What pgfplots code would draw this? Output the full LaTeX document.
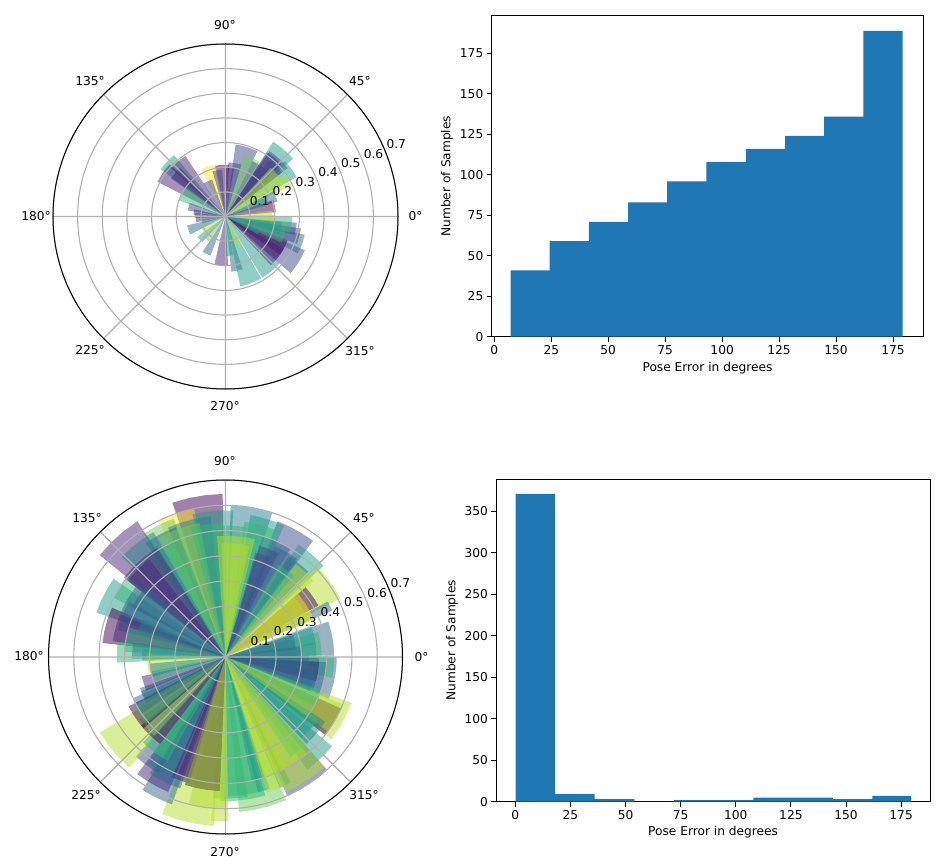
\documentclass[border=0pt]{standalone}
\usepackage{fontspec}
\setmainfont{DejaVu Sans}
\usepackage{pgfplots}
\usepgfplotslibrary{polar}
\pgfplotsset{compat=1.18}

% viridis, ten steps
\definecolor{v0}{HTML}{440154}
\definecolor{v1}{HTML}{482878}
\definecolor{v2}{HTML}{3E4989}
\definecolor{v3}{HTML}{31688E}
\definecolor{v4}{HTML}{26828E}
\definecolor{v5}{HTML}{1F9E89}
\definecolor{v6}{HTML}{35B779}
\definecolor{v7}{HTML}{6ECE58}
\definecolor{v8}{HTML}{B5DE2B}
\definecolor{v9}{HTML}{FDE725}
\definecolor{histblue}{HTML}{1F77B4}
\definecolor{gridgray}{HTML}{B0B0B0}

\newcommand{\tfont}{\fontsize{12.2}{14}\selectfont}

% one wedge: angle, width, radius, colour
\newcommand{\wbar}[4]{%
  \pgfmathsetmacro\ta{#1-#2/2}%
  \pgfmathsetmacro\tb{#1-#2/6}%
  \pgfmathsetmacro\tc{#1+#2/6}%
  \pgfmathsetmacro\td{#1+#2/2}%
  \edef\temp{\noexpand\addplot[draw=none,fill=#4,fill opacity=0.5]
    coordinates {(\ta,0) (\ta,#3) (\tb,#3) (\tc,#3) (\td,#3) (\td,0)};}%
  \temp}

\pgfplotsset{
  rosestyle/.style={
    scale only axis, width=#1, height=#1, anchor=center, clip=false,
    xmin=0, xmax=360, ymin=0, ymax=0.7,
    xtick={0,45,...,315}, ytick={0.1,0.2,...,0.7},
    xticklabels={}, yticklabels={},
    grid=major, major grid style={gridgray,line width=1.1pt},
    major tick length=0pt, axis on top,
    axis line style={black,line width=1pt},
    y axis line style={draw=none},
  },
  histstyle/.style={
    scale only axis, anchor=south west,
    axis line style={black,line width=1pt},
    tick style={black,line width=1pt}, major tick length=4.9pt,
    tick align=outside, xtick pos=bottom, ytick pos=left,
    every tick label/.append style={font=\tfont},
    /pgf/number format/assume math mode=true,
    label style={font=\tfont},
    xtick={0,25,...,175},
    xlabel={Pose Error in degrees}, ylabel={Number of Samples},
    scaled ticks=false,
  },
}
\newcommand{\rlab}[2]{\node[anchor=south west,inner sep=0pt,xshift=1.5pt,yshift=1.5pt,font=\tfont] at (axis cs:22.5,#1) {#2};}

\begin{document}
\begin{tikzpicture}[x=1pt,y=1pt]
\path[use as bounding box] (0,0) rectangle (936,863);

% top rose
\begin{polaraxis}[rosestyle=345pt, at={(225.5pt,646.5pt)}]
\wbar{49}{17}{.36}{v5}
\wbar{47}{18}{.32}{v2}
\wbar{36}{14}{.33}{v5}
\wbar{30}{10}{.295}{v8}
\wbar{73}{18}{.295}{v2}
\wbar{66}{15}{.26}{v7}
\wbar{80}{14}{.22}{v2}
\wbar{56}{16}{.25}{v2}
\wbar{50}{14}{.31}{v1}
\wbar{45}{14}{.29}{v2}
\wbar{40}{14}{.27}{v8}
\wbar{22}{12}{.22}{v3}
\wbar{12}{14}{.205}{v0}
\wbar{20}{10}{.18}{v5}
\wbar{85}{10}{.20}{v1}
\wbar{94}{16}{.21}{v0}
\wbar{109}{16}{.215}{v9}
\wbar{100}{12}{.19}{v2}
\wbar{137}{14}{.325}{v5}
\wbar{145}{16}{.31}{v1}
\wbar{131}{15}{.295}{v1}
\wbar{139}{12}{.27}{v1}
\wbar{117}{14}{.16}{v2}
\wbar{152}{18}{.2}{v6}
\wbar{165}{12}{.155}{v2}
\wbar{172}{10}{.13}{v1}
\wbar{178}{10}{.125}{v2}
\wbar{186}{10}{.12}{v1}
\wbar{200}{14}{.16}{v3}
\wbar{192}{10}{.10}{v4}
\wbar{222}{12}{.14}{v5}
\wbar{213}{12}{.11}{v8}
\wbar{231}{10}{.12}{v7}
\wbar{243}{12}{.17}{v3}
\wbar{265}{16}{.2}{v1}
\wbar{282}{12}{.225}{v3}
\wbar{276}{10}{.16}{v5}
\wbar{291}{18}{.29}{v5}
\wbar{295}{10}{.13}{v8}
\wbar{310}{18}{.29}{v5}
\wbar{328}{18}{.35}{v2}
\wbar{340}{14}{.33}{v3}
\wbar{345}{12}{.31}{v2}
\wbar{350}{10}{.29}{v2}
\wbar{322}{18}{.27}{v1}
\wbar{332}{14}{.27}{v0}
\wbar{326}{14}{.27}{v1}
\wbar{342}{14}{.25}{v6}
\wbar{353}{14}{.27}{v6}
\wbar{348}{12}{.23}{v5}
\wbar{358}{8}{.2}{v8}
\wbar{3}{8}{.19}{v8}
\wbar{335}{8}{.15}{v5}
\rlab{0.1}{0.1}\rlab{0.2}{0.2}\rlab{0.3}{0.3}\rlab{0.4}{0.4}\rlab{0.5}{0.5}\rlab{0.6}{0.6}\rlab{0.7}{0.7}
\end{polaraxis}

% bottom rose
\begin{polaraxis}[rosestyle=354pt, at={(225.5pt,206pt)}]
% outer pale tips first
\wbar{100}{18}{.645}{v0}
\wbar{109}{14}{.6}{v9}
\wbar{117}{13}{.585}{v7}
\wbar{132}{18}{.64}{v1}
\wbar{153}{16}{.54}{v5}
\wbar{165}{17}{.49}{v0}
\wbar{177}{12}{.43}{v6}
\wbar{61}{16}{.575}{v2}
\wbar{50}{14}{.53}{v5}
\wbar{36}{18}{.51}{v8}
\wbar{26}{5}{.46}{v3}
\wbar{10}{18}{.43}{v3}
\wbar{355}{10}{.44}{v3}
\wbar{344}{12}{.44}{v3}
\wbar{331}{18}{.53}{v8}
\wbar{313}{14}{.55}{v5}
\wbar{303}{18}{.6}{v2}
\wbar{284}{18}{.615}{v7}
\wbar{257}{18}{.67}{v8}
\wbar{244}{12}{.62}{v3}
\wbar{240}{14}{.58}{v1}
\wbar{234}{12}{.53}{v2}
\wbar{220}{18}{.58}{v8}
\wbar{209}{10}{.4}{v3}
\wbar{206}{8}{.36}{v4}
% sector 90..125
\wbar{95}{16}{.58}{v5}
\wbar{80}{16}{.6}{v4}
\wbar{73}{14}{.57}{v5}
\wbar{105}{18}{.56}{v4}
\wbar{118}{14}{.55}{v3}
\wbar{110}{18}{.54}{v7}
\wbar{98}{14}{.53}{v6}
\wbar{120}{14}{.5}{v6}
\wbar{88}{14}{.52}{v6}
% sector 125..180
\wbar{128}{16}{.57}{v4}
\wbar{145}{14}{.5}{v6}
\wbar{150}{16}{.45}{v3}
\wbar{132}{20}{.51}{v1}
\wbar{135}{14}{.49}{v1}
\wbar{158}{16}{.44}{v3}
\wbar{145}{14}{.42}{v3}
\wbar{165}{14}{.45}{v1}
\wbar{170}{14}{.40}{v6}
\wbar{176}{10}{.37}{v4}
\wbar{160}{10}{.36}{v4}
\wbar{185}{14}{.31}{v8}
\wbar{178}{8}{.33}{v5}
% sector 40..85
\wbar{66}{14}{.5}{v3}
\wbar{75}{14}{.54}{v6}
\wbar{60}{12}{.48}{v3}
\wbar{68}{10}{.46}{v2}
\wbar{52}{12}{.47}{v3}
\wbar{47}{12}{.46}{v8}
\wbar{55}{10}{.42}{v6}
\wbar{70}{8}{.43}{v2}
\wbar{85}{18}{.48}{v8}
\wbar{85}{14}{.45}{v8}
% sector 0..40
\wbar{35}{12}{.42}{v0}
\wbar{32}{18}{.38}{v9}
\wbar{32}{18}{.36}{v8}
\wbar{8}{14}{.38}{v6}
\wbar{14}{12}{.36}{v5}
\wbar{4}{10}{.36}{v5}
\wbar{12}{12}{.28}{v3}
\wbar{3}{10}{.30}{v3}
% sector 340..360
\wbar{355}{12}{.43}{v6}
\wbar{348}{18}{.40}{v3}
\wbar{351}{12}{.37}{v0}
\wbar{350}{20}{.37}{v3}
\wbar{346}{16}{.36}{v3}
\wbar{356}{10}{.33}{v3}
% sector 300..340
\wbar{329}{14}{.5}{v0}
\wbar{331}{14}{.5}{v8}
\wbar{320}{14}{.47}{v4}
\wbar{336}{10}{.40}{v6}
\wbar{323}{8}{.44}{v6}
\wbar{330}{12}{.40}{v7}
\wbar{318}{10}{.44}{v5}
% sector 270..300
\wbar{277}{18}{.57}{v6}
\wbar{272}{14}{.56}{v6}
\wbar{295}{5}{.56}{v4}
\wbar{303}{18}{.585}{v8}
\wbar{303}{14}{.5}{v8}
\wbar{308}{10}{.47}{v7}
\wbar{278}{14}{.55}{v6}
\wbar{286}{5}{.55}{v5}
\wbar{285}{6}{.5}{v5}
\wbar{293}{10}{.5}{v8}
\wbar{291}{8}{.56}{v8}
% sector 225..270
\wbar{268}{6}{.65}{v8}
\wbar{263}{14}{.6}{v8}
\wbar{244}{14}{.55}{v3}
\wbar{240}{12}{.52}{v4}
\wbar{232}{12}{.47}{v6}
\wbar{237}{8}{.47}{v6}
\wbar{250}{8}{.52}{v1}
\wbar{251}{6}{.5}{v1}
\wbar{260}{15}{.53}{v3}
\wbar{260}{15}{.53}{v0}
\wbar{260}{15}{.53}{v8}
\wbar{226}{14}{.43}{v0}
\wbar{222}{12}{.42}{v7}
\wbar{214}{14}{.43}{v0}
\wbar{214}{12}{.41}{v6}
% sector 185..215
\wbar{204}{8}{.36}{v3}
\wbar{198}{10}{.34}{v1}
\wbar{195}{8}{.30}{v6}
\wbar{190}{10}{.3}{v4}
\rlab{0.1}{0.1}\rlab{0.2}{0.2}\rlab{0.3}{0.3}\rlab{0.4}{0.4}\rlab{0.5}{0.5}\rlab{0.6}{0.6}\rlab{0.7}{0.7}
\end{polaraxis}

% angle labels
\foreach \xx/\yy/\tt in {225/838/90°,360/782/45°,415.5/647/0°,90/782/135°,36/647/180°,90/513/225°,225/457/270°,360/512/315°,
                         225/402/90°,364/345/45°,421.5/206/0°,87/345/135°,29/207/180°,86/68/225°,225/11/270°,364/68/315°}
  \node[font=\tfont,inner sep=0pt] at (\xx,\yy) {\tt};
% the second row's 0° is cut off by the panel beside it
\fill[white] (426.7,196) rectangle (440,216);

% top histogram
\begin{axis}[histstyle, at={(491.7pt,526.3pt)}, width=431.6pt, height=321pt,
  xmin=-1.14, xmax=188.3, ymin=0, ymax=198.3, ytick={0,25,...,175},
  x label style={at={(axis description cs:0.5,-0.0966)},anchor=center},
  y label style={at={(axis description cs:-0.1036,0.5)},anchor=center}]
\addplot[const plot, fill=histblue, draw=none] coordinates {
  (7.13,41) (24.3,59) (41.5,71) (58.7,83) (75.9,96) (93.1,108) (110.4,116) (127.6,124) (144.8,136) (162,189) (179.2,189)} \closedcycle;
\end{axis}

% bottom histogram
\begin{axis}[histstyle, at={(496.3pt,61.3pt)}, width=433.7pt, height=322.7pt,
  xmin=-8.6, xmax=188.1, ymin=0, ymax=388.8, ytick={0,50,...,350},
  x label style={at={(axis description cs:0.5,-0.094)},anchor=center},
  y label style={at={(axis description cs:-0.102,0.5)},anchor=center}]
\addplot[const plot, fill=histblue, draw=none] coordinates {
  (0.2,371) (18,9) (36,3) (54,0) (72,2) (90,2) (108,5) (126,5) (144,3) (162,7) (179.5,7)} \closedcycle;
\end{axis}
\end{tikzpicture}
\end{document}
